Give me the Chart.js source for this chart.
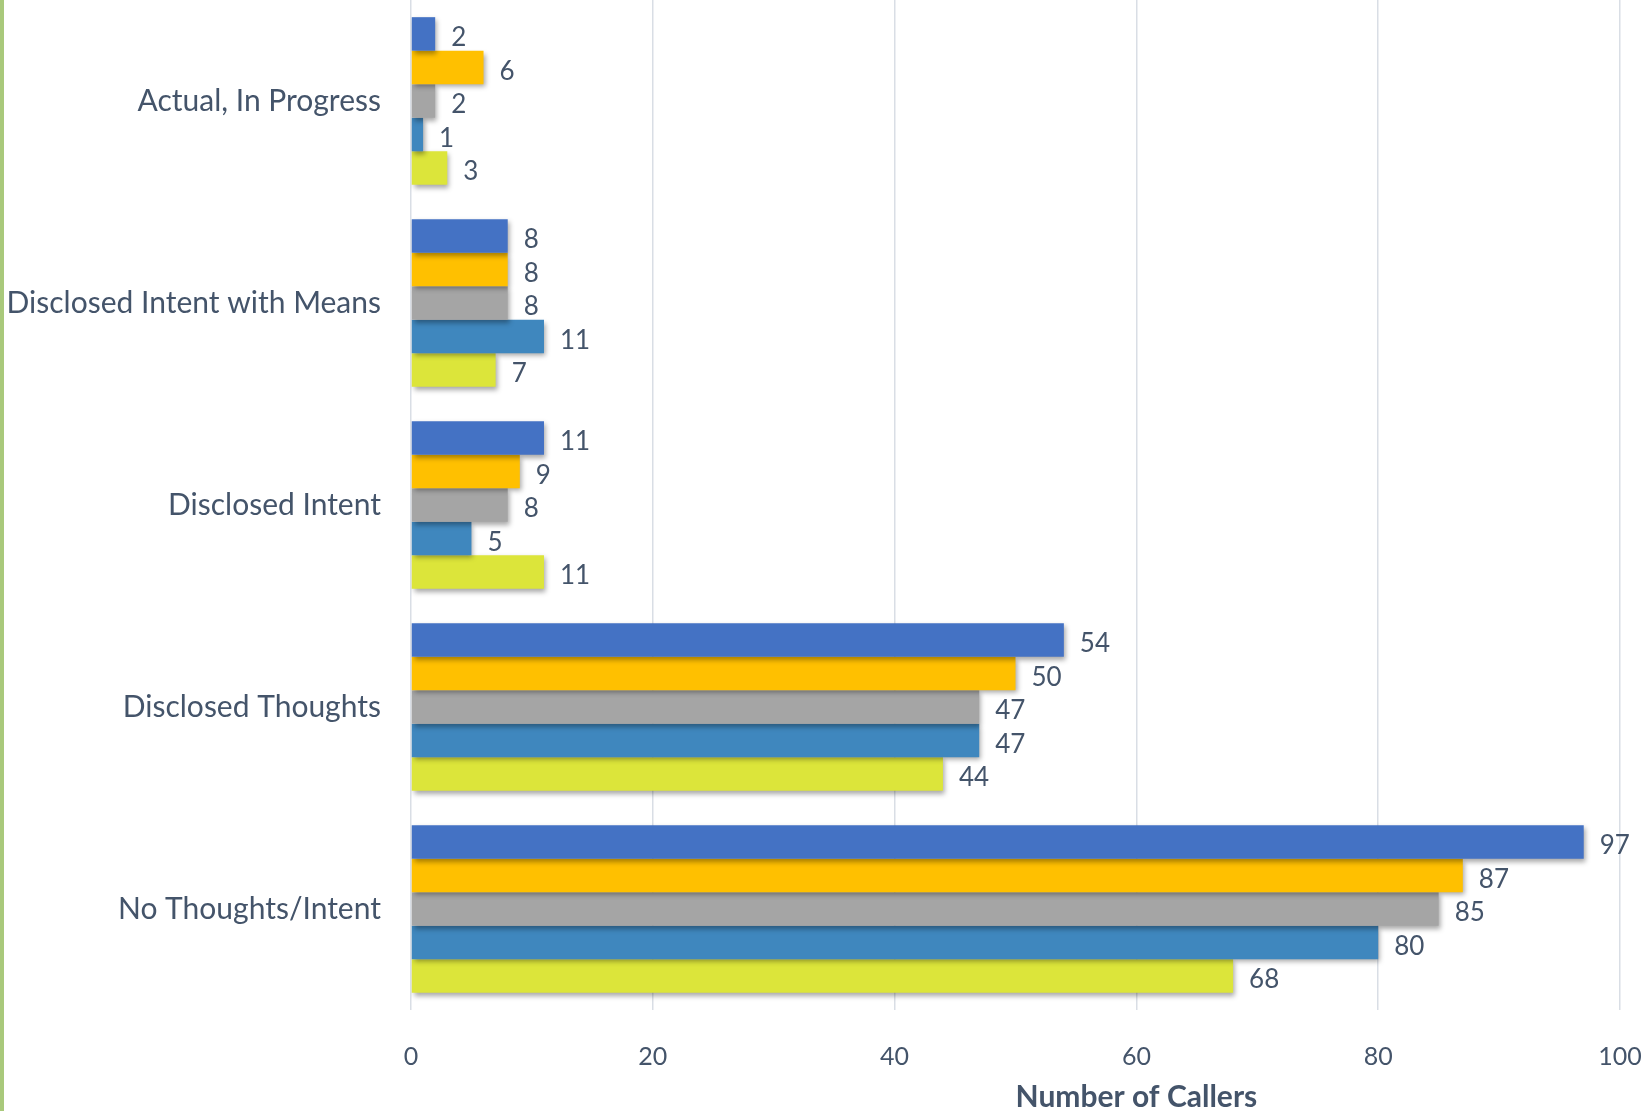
<!DOCTYPE html>
<html>
<head>
<meta charset="utf-8">
<script src="https://cdn.jsdelivr.net/npm/chart.js@4.4.1/dist/chart.umd.min.js"></script>
<style>
html,body{margin:0;padding:0;background:#fff;}
#wrap{width:1644px;height:1111px;position:relative;}
</style>
</head>
<body>
<div id="wrap"><canvas id="c" width="1644" height="1111"></canvas></div>
<script>
const categories = ['Actual, In Progress','Disclosed Intent with Means','Disclosed Intent','Disclosed Thoughts','No Thoughts/Intent'];
const seriesNames = ['Series 1','Series 2','Series 3','Series 4','Series 5'];
const series1 = [2, 8, 11, 54, 97];
const series2 = [6, 8, 9, 50, 87];
const series3 = [2, 8, 8, 47, 85];
const series4 = [1, 11, 5, 47, 80];
const series5 = [3, 7, 11, 44, 68];
const xTicks = [0, 20, 40, 60, 80, 100];
const xTitle = 'Number of Callers';

const colors = ['#4472C4', '#FFC000', '#A5A5A5', '#3F87BE', '#DCE53A'];
const textColor = '#44546A';
const FONT = 'Lato, "Open Sans", sans-serif';

const allSeries = [series1, series2, series3, series4, series5];

const shadowPlugin = {
  id: 'shadow',
  beforeDatasetsDraw(chart) {
    const ctx = chart.ctx;
    ctx.save();
    ctx.shadowColor = 'rgba(0,0,0,0.35)';
    ctx.shadowBlur = 5;
    ctx.shadowOffsetX = 2;
    ctx.shadowOffsetY = 3;
  },
  afterDatasetsDraw(chart) {
    chart.ctx.restore();
    const ctx = chart.ctx;
    ctx.save();
    ctx.fillStyle = textColor;
    ctx.font = '26px ' + FONT;
    ctx.textAlign = 'left';
    ctx.textBaseline = 'middle';
    chart.data.datasets.forEach((ds, di) => {
      const meta = chart.getDatasetMeta(di);
      meta.data.forEach((bar, i) => {
        ctx.fillText(String(ds.data[i]), bar.x + 16, bar.y + 4);
      });
    });
    ctx.restore();
  }
};

const decoPlugin = {
  id: 'deco',
  afterDraw(chart) {
    const ctx = chart.ctx;
    ctx.save();
    ctx.fillStyle = '#A9C97B';
    ctx.fillRect(0, 0, 4, chart.height);
    const xs = chart.scales.x;
    ctx.fillStyle = textColor;
    ctx.font = 'bold 30px ' + FONT;
    ctx.textAlign = 'center';
    ctx.textBaseline = 'middle';
    ctx.fillText(xTitle, xs.getPixelForValue(60), chart.height - 14);
    ctx.restore();
  }
};

new Chart(document.getElementById('c'), {
  type: 'bar',
  data: {
    labels: categories,
    datasets: allSeries.map((d, i) => ({
      label: seriesNames[i],
      data: d,
      backgroundColor: colors[i],
      borderWidth: 0,
      categoryPercentage: 0.83,
      barPercentage: 1.0
    }))
  },
  options: {
    indexAxis: 'y',
    responsive: false,
    devicePixelRatio: 1,
    animation: false,
    layout: { padding: { left: 0, right: 24, top: 0, bottom: 0 } },
    plugins: {
      legend: { display: false },
      tooltip: { enabled: false }
    },
    scales: {
      x: {
        min: 0,
        max: 100,
        afterBuildTicks(scale) { scale.ticks = xTicks.map(v => ({ value: v })); },
        afterFit(scale) {
          scale.height = 101;
          scale.paddingLeft = 0; scale.paddingRight = 0;
        },
        grid: { color: '#D9DEE5', lineWidth: 1.5, drawTicks: false },
        border: { display: false },
        ticks: {
          color: textColor,
          font: { size: 25, family: FONT },
          padding: 32,
          maxRotation: 0
        }
      },
      y: {
        afterFit(scale) {
          scale.width = 411;
          scale.paddingTop = 0; scale.paddingBottom = 0;
        },
        grid: { display: false, drawTicks: false },
        border: { display: false },
        ticks: {
          color: textColor,
          font: { size: 30, family: FONT },
          padding: 30
        }
      }
    }
  },
  plugins: [shadowPlugin, decoPlugin]
});
</script>
</body>
</html>
